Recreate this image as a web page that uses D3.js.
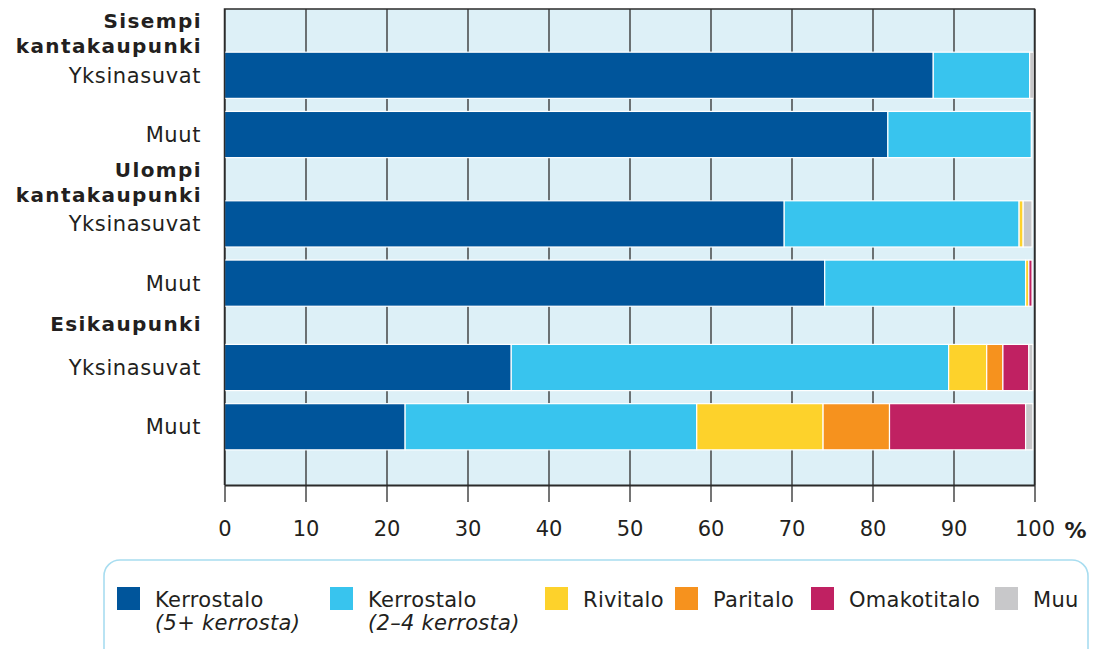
<!DOCTYPE html>
<html>
<head>
<meta charset="utf-8">
<script src="https://d3js.org/d3.v7.min.js"></script>
<style>
  body { margin: 0; background: #fff; }
  text { font-family: "DejaVu Sans", Verdana, sans-serif; fill: #231f20; }
</style>
</head>
<body>
<div class="chart"></div>
<script>
// Data (share of dwellings, %)
var groups = ["Sisempi kantakaupunki", "Ulompi kantakaupunki", "Esikaupunki"];
var rowLabels = ["Yksinasuvat", "Muut"];
var seriesNames = ["Kerrostalo|(5+ kerrosta)", "Kerrostalo|(2–4 kerrosta)", "Rivitalo", "Paritalo", "Omakotitalo", "Muu"];
var seriesColors = ["#00559b", "#38c4ee", "#fdd22b", "#f6921e", "#c02162", "#c8c8ca"];

// one value per bar: Sisempi Y, Sisempi M, Ulompi Y, Ulompi M, Esikaupunki Y, Esikaupunki M
var kerrostalo5 = [87.5, 81.9, 69.1, 74.1, 35.4, 22.3];
var kerrostalo24 = [11.9, 17.7, 29.0, 24.8, 54.0, 36.0];
var rivitalo = [0, 0, 0.5, 0.4, 4.7, 15.6];
var paritalo = [0, 0, 0, 0, 2.0, 8.2];
var omakotitalo = [0, 0, 0, 0.4, 3.2, 16.8];
var muu = [0.5, 0, 1.1, 0, 0.5, 0.9];

var xTicks = [0, 10, 20, 30, 40, 50, 60, 70, 80, 90, 100];

var svgWidth = 1106;
var svgHeight = 649;

var plot = { left: 224.5, right: 1034.5, top: 9, bottom: 485 };

// vertical layout sizes
var barSize = 46, barGap = 13, headTwo = 43, headOne = 38, bottomPad = 35;
// legend item left edges
var legendX = [117, 330, 545, 675, 811, 995];

var svg = d3.select(".chart")
  .append("svg")
  .attr("width", svgWidth)
  .attr("height", svgHeight);

// build bar rows
var series = [kerrostalo5, kerrostalo24, rivitalo, paritalo, omakotitalo, muu];
var rows = [];
var headers = [];
var cursor = 0;
var k = 0;
groups.forEach(function(g) {
  var lines = g.split(" ");
  var h = lines.length > 1 ? headTwo : headOne;
  headers.push({ lines: lines, u0: cursor, u1: cursor + h });
  cursor += h;
  rowLabels.forEach(function(r, ri) {
    var vals = series.map(function(s) { return s[k]; });
    rows.push({ label: r, u0: cursor, u1: cursor + barSize, values: vals });
    cursor += barSize;
    if (ri < rowLabels.length - 1) cursor += barGap;
    k++;
  });
});
cursor += bottomPad;

var x = d3.scaleLinear().domain([0, 100]).range([plot.left, plot.right]);
var y = d3.scaleLinear().domain([0, cursor]).range([plot.top, plot.bottom]);

// background
svg.append("rect")
  .attr("x", plot.left)
  .attr("y", plot.top)
  .attr("width", plot.right - plot.left)
  .attr("height", plot.bottom - plot.top)
  .attr("fill", "#ddf0f7");

// grid lines
var grid = svg.append("g")
  .attr("transform", `translate(0, ${plot.bottom})`)
  .call(d3.axisBottom(x).tickValues(xTicks).tickSize(-(plot.bottom - plot.top)).tickFormat(""));
grid.select(".domain").remove();
grid.selectAll(".tick line").attr("stroke", "#3a3a3a").attr("stroke-width", 1.4);

// stacked bars
var stack = rows.map(function(r) {
  var acc = 0;
  return r.values.map(function(v, i) {
    var seg = { x0: acc, x1: acc + v, color: seriesColors[i], row: r, v: v };
    acc += v;
    return seg;
  });
});

svg.append("g")
  .selectAll("g")
  .data(stack)
  .enter()
  .append("g")
  .selectAll("rect")
  .data(function(d) { return d.filter(function(s) { return s.v > 0; }); })
  .enter()
  .append("rect")
  .attr("x", d => x(d.x0))
  .attr("width", d => x(d.x1) - x(d.x0))
  .attr("y", d => y(d.row.u0))
  .attr("height", d => y(d.row.u1) - y(d.row.u0))
  .attr("fill", d => d.color)
  .attr("stroke", "#fff")
  .attr("stroke-width", 1.2);

// frame
svg.append("path")
  .attr("d", `M${plot.left},${plot.bottom} V${plot.top} H${plot.right} V${plot.bottom}`)
  .attr("fill", "none")
  .attr("stroke", "#2b2b2b")
  .attr("stroke-width", 1.5);

// bottom axis
var axis = svg.append("g")
  .attr("transform", `translate(0, ${plot.bottom})`)
  .call(d3.axisBottom(x).tickValues(xTicks).tickSize(17).tickPadding(19).tickSizeOuter(0));
axis.select(".domain").attr("stroke", "#2b2b2b").attr("stroke-width", 2.2);
axis.selectAll(".tick line").attr("stroke", "#2b2b2b").attr("stroke-width", 1.3);
axis.selectAll(".tick text")
  .attr("font-family", "DejaVu Sans, sans-serif")
  .attr("font-size", "21px")
  .attr("fill", "#231f20");

svg.append("text")
  .attr("x", x(100) + 30)
  .attr("y", plot.bottom + 53)
  .attr("font-size", "22px")
  .attr("font-weight", "bold")
  .text("%");

// row labels
svg.append("g")
  .selectAll("text")
  .data(rows)
  .enter()
  .append("text")
  .attr("x", 201)
  .attr("y", d => (y(d.u0) + y(d.u1)) / 2)
  .attr("dy", "0.36em")
  .attr("text-anchor", "end")
  .attr("font-size", "21px")
  .attr("letter-spacing", "0.6px")
  .text(d => d.label);

// group headers
headers.forEach(function(h) {
  var mid = (y(h.u0) + y(h.u1)) / 2 + (h.lines.length > 1 ? 3 : -2);
  var lh = 25;
  h.lines.forEach(function(line, i) {
    svg.append("text")
      .attr("x", 202)
      .attr("y", mid + (i - (h.lines.length - 1) / 2) * lh)
      .attr("dy", "0.36em")
      .attr("text-anchor", "end")
      .attr("font-size", "20px")
      .attr("font-weight", "bold")
      .attr("letter-spacing", "1.4px")
      .text(line);
  });
});

// legend
svg.append("rect")
  .attr("x", 104)
  .attr("y", 560)
  .attr("width", 984)
  .attr("height", 130)
  .attr("rx", 16)
  .attr("fill", "#fff")
  .attr("stroke", "#a8ddf0")
  .attr("stroke-width", 1.6);

seriesNames.forEach(function(name, i) {
  var item = svg.append("g").attr("transform", `translate(${legendX[i]}, 587)`);
  item.append("rect")
    .attr("width", 23)
    .attr("height", 23)
    .attr("fill", seriesColors[i]);
  name.split("|").forEach(function(p, j) {
    item.append("text")
      .attr("x", 38)
      .attr("y", 20 + j * 23)
      .attr("font-size", "21px")
      .attr("letter-spacing", "0.3px")
      .attr("font-style", j > 0 ? "italic" : "normal")
      .text(p);
  });
});
</script>
</body>
</html>
